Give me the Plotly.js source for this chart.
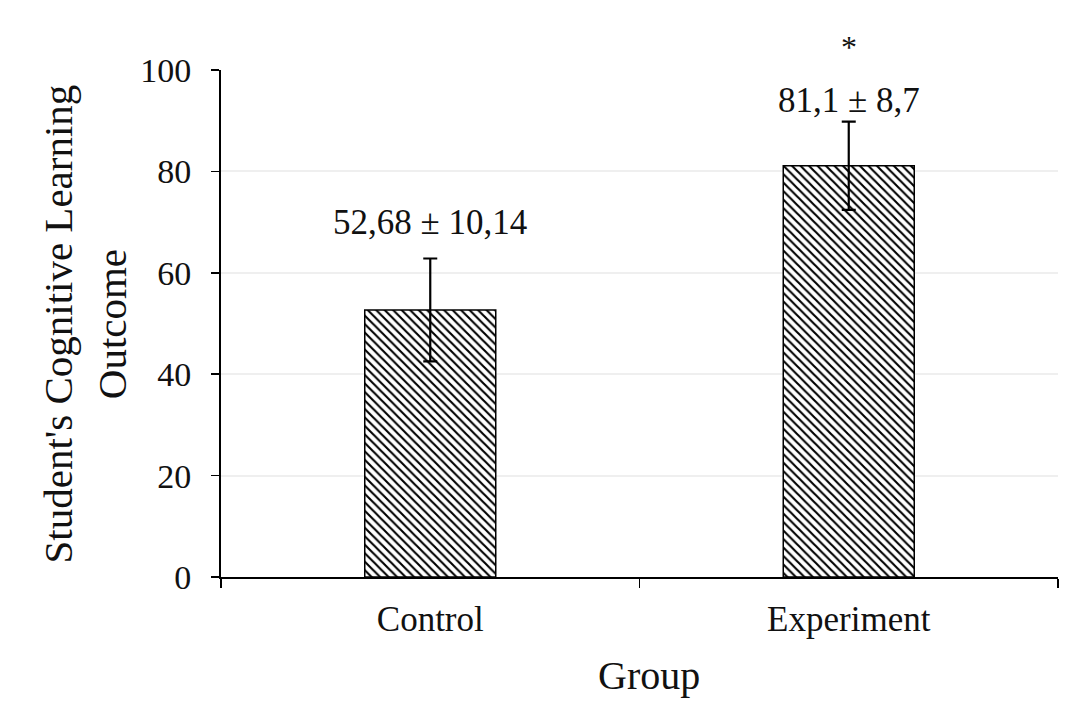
<!DOCTYPE html>
<html>
<head>
<meta charset="utf-8">
<script src="https://cdn.plot.ly/plotly-3.0.1.min.js"></script>
<style>html,body{margin:0;padding:0;background:#fff;}#chart{width:1084px;height:713px;}</style>
</head>
<body>
<div id="chart"></div>
<script>
const categories = ["Control", "Experiment"];
const means = [52.68, 81.1];
const sds = [10.14, 8.7];
const valueLabels = ["52,68 ± 10,14", "81,1 ± 8,7"];
const labelY = [70, 94];
const significance = ["", "*"];
const yTicks = [0, 20, 40, 60, 80, 100];

const FONT = "Liberation Serif, Times New Roman, serif";

const trace = {
  type: "bar",
  x: categories,
  y: means,
  width: 0.313,
  marker: {
    color: "#ffffff",
    line: {color: "#000000", width: 1.5},
    pattern: {shape: "\\", fgcolor: "#000000", bgcolor: "#ffffff", size: 6, solidity: 0.35}
  },
  error_y: {type: "data", array: sds, visible: true, color: "#000000", thickness: 2.2, width: 7},
  hoverinfo: "none"
};

const annotations = [];
categories.forEach((c, i) => {
  annotations.push({x: c, y: labelY[i], xref: "x", yref: "y", text: valueLabels[i], showarrow: false,
    font: {family: FONT, size: 35, color: "#111"}});
  if (significance[i]) {
    annotations.push({x: c, y: 1.045, xref: "x", yref: "paper", text: significance[i], showarrow: false,
      yanchor: "middle", font: {family: FONT, size: 32, color: "#111"}});
  }
});
annotations.push({xref: "paper", yref: "paper", x: -0.1625, y: 0.5, textangle: -90,
  text: "Student's Cognitive Learning<br>Outcome", showarrow: false, xanchor: "center", yanchor: "middle",
  font: {family: FONT, size: 41, color: "#111"}});
annotations.push({xref: "paper", yref: "paper", x: 0.511, y: -0.195, xanchor: "center", yanchor: "middle",
  text: "Group", showarrow: false, font: {family: FONT, size: 40, color: "#111"}});

const layout = {
  width: 1084, height: 713,
  margin: {l: 221, r: 26, t: 70, b: 136},
  paper_bgcolor: "#ffffff", plot_bgcolor: "#ffffff",
  showlegend: false,
  font: {family: FONT, color: "#111"},
  xaxis: {
    type: "category", range: [-0.5, 1.5],
    showline: true, linecolor: "#000", linewidth: 2,
    ticks: "outside", tickson: "boundaries", ticklen: 9, tickwidth: 1.5, tickcolor: "#000",
    ticklabelstandoff: 10,
    showgrid: false, zeroline: false,
    tickfont: {family: FONT, size: 35, color: "#111"}
  },
  yaxis: {
    range: [0, 100], tickvals: yTicks, ticktext: yTicks.map(String),
    showline: true, linecolor: "#000", linewidth: 2,
    ticks: "outside", ticklen: 8, tickwidth: 1.5, tickcolor: "#000",
    ticklabelstandoff: 13,
    showgrid: true, gridcolor: "#efefef", gridwidth: 2, zeroline: false,
    tickfont: {family: FONT, size: 34, color: "#111"}
  },
  annotations: annotations
};

Plotly.newPlot("chart", [trace], layout, {staticPlot: true, displayModeBar: false});
</script>
</body>
</html>
